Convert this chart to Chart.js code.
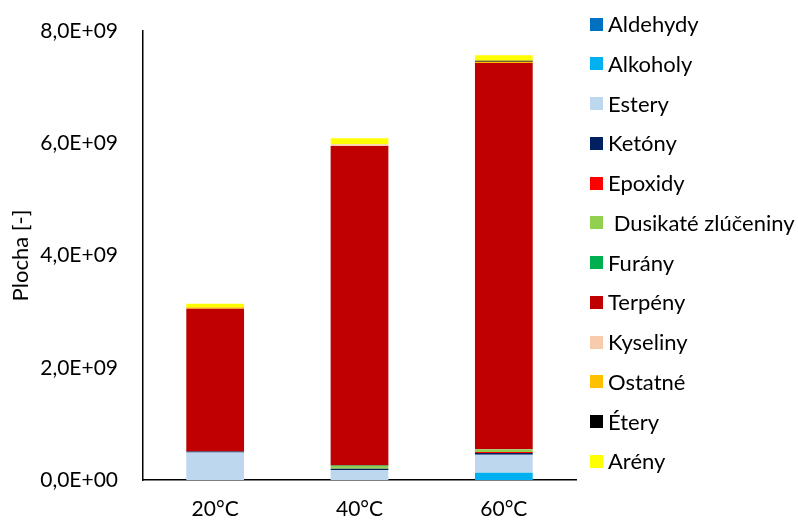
<!DOCTYPE html>
<html>
<head>
<meta charset="utf-8">
<script src="https://cdn.jsdelivr.net/npm/chart.js@4/dist/chart.umd.min.js"></script>
<style>
  html, body { margin: 0; padding: 0; background: #fff; }
  #wrap { width: 798px; height: 521px; position: relative; }
</style>
</head>
<body>
<div id="wrap"><canvas id="c" width="798" height="521"></canvas></div>
<script>
// Categories (extraction temperature)
const categories = ['20°C', '40°C', '60°C'];

// Peak area per compound class
const aldehydy  = [0, 0, 0];
const alkoholy  = [0, 0, 0.13e9];
const estery    = [0.49e9, 0.18e9, 0.32e9];
const ketony    = [0.02e9, 0.02e9, 0.03e9];
const epoxidy   = [0, 0, 0.02e9];
const dusikate  = [0, 0.05e9, 0.05e9];
const furany    = [0, 0.01e9, 0];
const terpeny   = [2.54e9, 5.69e9, 6.88e9];
const kyseliny  = [0, 0.03e9, 0];
const ostatne   = [0.03e9, 0, 0.02e9];
const etery     = [0, 0, 0.02e9];
const areny     = [0.06e9, 0.11e9, 0.10e9];

// Y axis ticks
const yTicks = [0, 2e9, 4e9, 6e9, 8e9];

const FONT = 'Lato';

const series = [
  { label: 'Aldehydy', data: aldehydy, color: '#0070C0' },
  { label: 'Alkoholy', data: alkoholy, color: '#00B0F0' },
  { label: 'Estery', data: estery, color: '#BDD7EE' },
  { label: 'Ketóny', data: ketony, color: '#002060' },
  { label: 'Epoxidy', data: epoxidy, color: '#FF0000' },
  { label: ' Dusikaté zlúčeniny', data: dusikate, color: '#92D050' },
  { label: 'Furány', data: furany, color: '#00B050' },
  { label: 'Terpény', data: terpeny, color: '#C00000' },
  { label: 'Kyseliny', data: kyseliny, color: '#F8CBAD' },
  { label: 'Ostatné', data: ostatne, color: '#FFC000' },
  { label: 'Étery', data: etery, color: '#000000' },
  { label: 'Arény', data: areny, color: '#FFFF00' }
];

// Excel-style scientific notation with decimal comma
function sci(v) {
  if (v === 0) return '0,0E+00';
  const e = Math.floor(Math.log10(Math.abs(v)) + 1e-9);
  const m = v / Math.pow(10, e);
  return m.toFixed(1).replace('.', ',') + 'E+' + String(e).padStart(2, '0');
}

// Vertical legend drawn to the right of the plot
const sideLegend = {
  id: 'sideLegend',
  afterDraw(chart) {
    const ctx = chart.ctx;
    ctx.save();
    ctx.font = '22px ' + FONT;
    ctx.textBaseline = 'middle';
    ctx.textAlign = 'left';
    chart.data.datasets.forEach((ds, i) => {
      const y = 24 + i * 39.75;
      ctx.fillStyle = ds.backgroundColor;
      ctx.fillRect(590, Math.round(y - 6.5), 13, 13);
      ctx.fillStyle = '#000';
      ctx.fillText(ds.label, 608, y + 1);
    });
    ctx.restore();
  }
};

new Chart(document.getElementById('c'), {
  type: 'bar',
  data: {
    labels: categories,
    datasets: series.map(s => ({
      label: s.label,
      data: s.data,
      backgroundColor: s.color,
      borderWidth: 0,
      barPercentage: 0.4,
      categoryPercentage: 1.0
    }))
  },
  options: {
    responsive: false,
    animation: false,
    layout: { padding: { left: 0, top: 31, right: 222, bottom: 0 } },
    plugins: {
      legend: { display: false },
      tooltip: { enabled: false }
    },
    scales: {
      x: {
        stacked: true,
        grid: { display: false, drawTicks: false },
        border: { display: true, color: '#000', width: 1.5 },
        ticks: { color: '#000', font: { family: FONT, size: 21 }, padding: 17 },
        afterFit(scale) { scale.height = 41; }
      },
      y: {
        stacked: true,
        min: 0,
        max: 8e9,
        grid: { display: false, drawTicks: false },
        border: { display: true, color: '#000', width: 1.5 },
        afterBuildTicks(scale) { scale.ticks = yTicks.map(v => ({ value: v })); },
        ticks: {
          color: '#000',
          font: { family: FONT, size: 21 },
          padding: 25,
          callback: v => sci(v)
        },
        title: {
          display: true,
          text: 'Plocha [-]',
          color: '#000',
          font: { family: FONT, size: 22 },
          padding: { top: 8, bottom: 0 }
        },
        afterFit(scale) {
          scale.width = 143;
          scale.paddingTop = 12;
          scale.paddingBottom = 12;
        }
      }
    }
  },
  plugins: [sideLegend]
});
</script>
</body>
</html>
